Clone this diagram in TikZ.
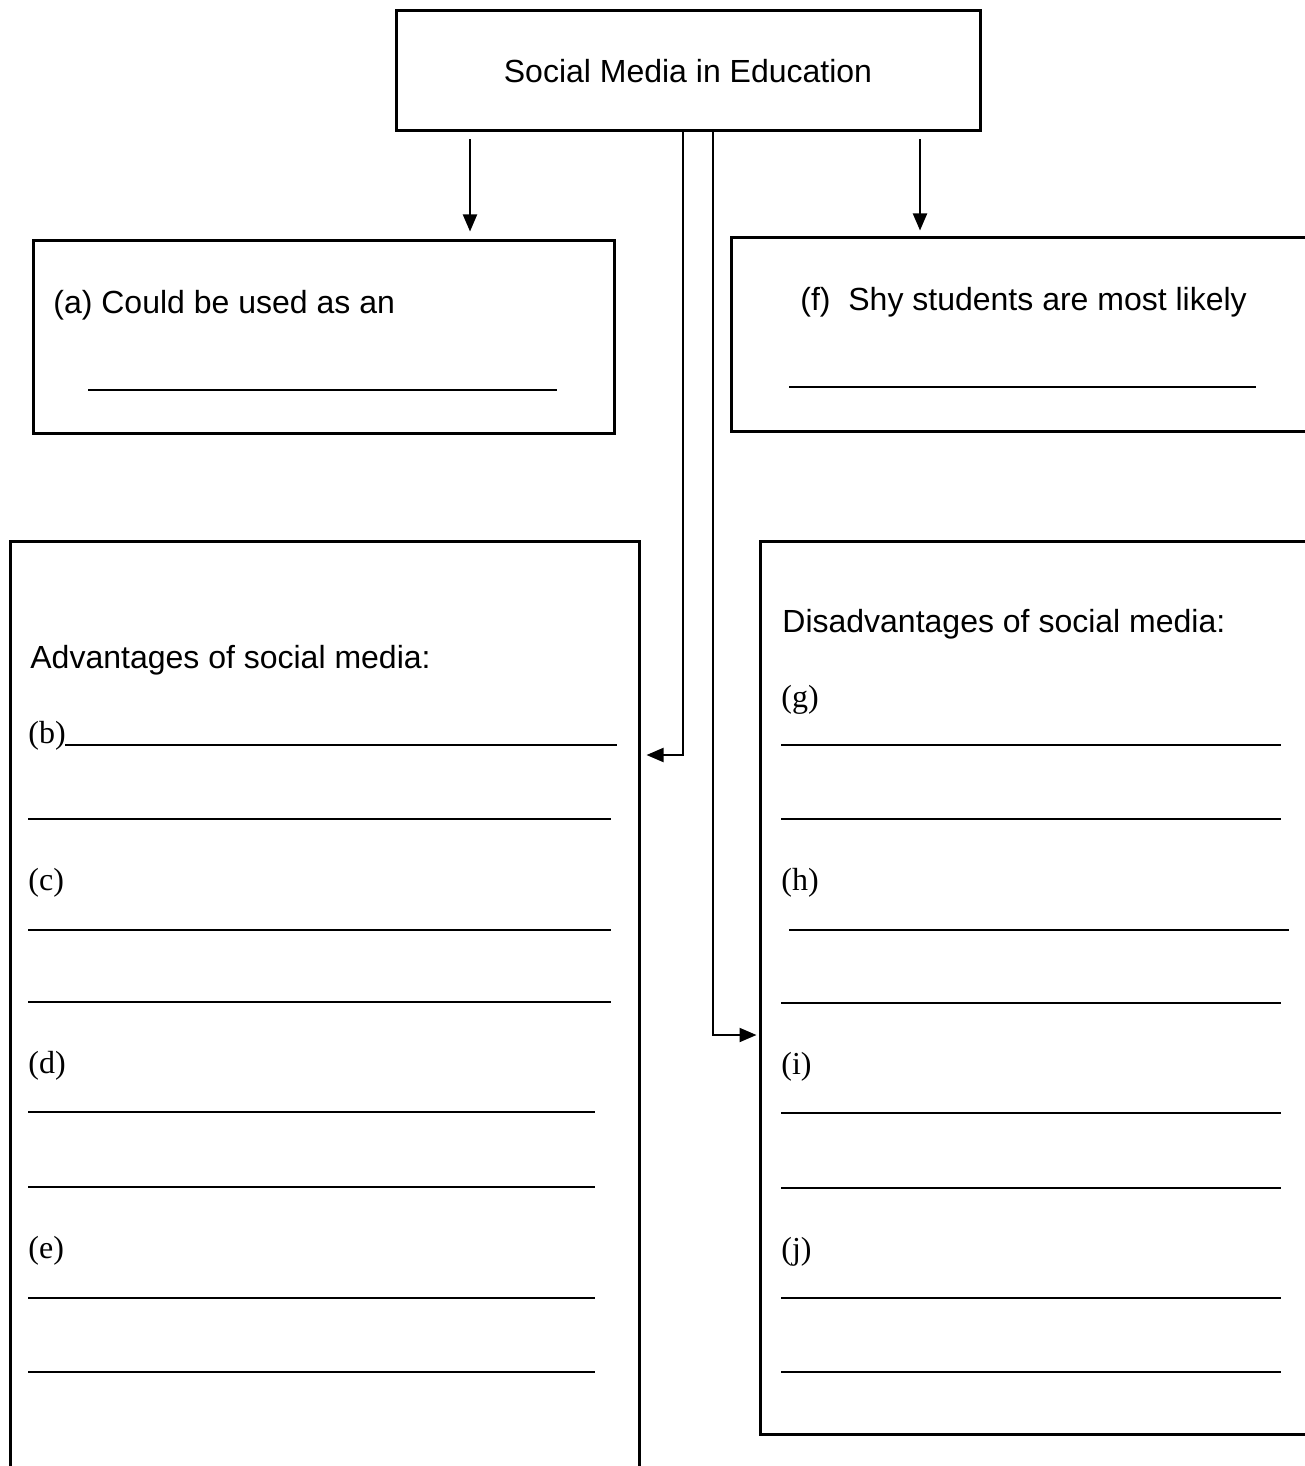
\documentclass[tikz,border=0pt]{standalone}
\usepackage{fontspec}
\setmainfont{Liberation Serif}
\setsansfont{Liberation Sans}
\usetikzlibrary{arrows.meta}
\tikzset{
  box/.style = {draw, line width=1.5pt, inner sep=0pt},
  blank/.style = {line width=1pt},
  arr/.style = {line width=1pt, -{Triangle[length=8.5pt, width=7pt]}},
  txt/.style = {font=\sffamily\fontsize{16}{19}\selectfont, inner sep=0pt},
  tag/.style = {font=\fontsize{16}{19}\selectfont, inner sep=0pt, anchor=west}
}
\begin{document}
\begin{tikzpicture}[x=0.5pt, y=-0.5pt]
  \useasboundingbox (0, 0) rectangle (1305, 1466);
  \clip (0, 0) rectangle (1305, 1466);
  % boxes
  \node [box, minimum width=292pt, minimum height=60pt] (top) at (688, 71) {};
  \node [txt] at (top.center) {Social Media in Education};
  \node [box, minimum width=290.5pt, minimum height=96pt] (boxa) at (323.5, 337) {};
  \node [box, minimum width=294.5pt, minimum height=96.5pt] (boxf) at (1025.5, 334.5) {};
  \node [box, minimum width=314.5pt, minimum height=469.5pt] (adv) at (324.5, 1010.5) {};
  \node [box, minimum width=280pt, minimum height=446.5pt] (dis) at (1040, 987.5) {};
  % texts
  \node [txt, anchor=base west] (qa) at (53, 313) {(a) Could be used as an};
  \node [txt, anchor=base west] (qf) at (800, 310) {(f)\ \ Shy students are most likely};
  \node [txt, anchor=base west] (advhead) at (30, 668) {Advantages of social media:};
  \node [txt, anchor=base west] (dishead) at (782, 632) {Disadvantages of social media:};
  \foreach \t/\y in {b/736, c/883, d/1066, e/1251}
    \node [tag] (lbl\t) at (28, \y) {(\t)};
  \foreach \t/\y in {g/700, h/883, i/1067, j/1252}
    \node [tag] (lbl\t) at (781, \y) {(\t)};
  % blanks
  \draw [blank] (88, 390) -- (557, 390);
  \draw [blank] (789, 387) -- (1256, 387);
  \foreach \xa/\xb/\y in {65/617/745, 28/611/819, 28/611/930, 28/611/1002,
                          28/595/1112, 28/595/1187, 28/595/1298, 28/595/1372}
    \draw [blank] (\xa, \y) -- (\xb, \y);
  \foreach \xa/\xb/\y in {781/1281/745, 781/1281/819, 789/1289/930, 781/1281/1003,
                          781/1281/1113, 781/1281/1188, 781/1281/1298, 781/1281/1372}
    \draw [blank] (\xa, \y) -- (\xb, \y);
  % connectors
  \draw [arr, shorten <=3.5pt, shorten >=4pt] (top.south -| 470, 0) -- (470, 0 |- boxa.north);
  \draw [arr, shorten <=3.5pt, shorten >=3pt] (top.south -| 920, 0) -- (920, 0 |- boxf.north);
  \draw [arr, shorten >=3pt] (top.south -| 683, 0) |- (adv.east |- 0, 755);
  \draw [arr, shorten >=1pt] (top.south -| 713, 0) |- (dis.west |- 0, 1035);
\end{tikzpicture}
\end{document}
